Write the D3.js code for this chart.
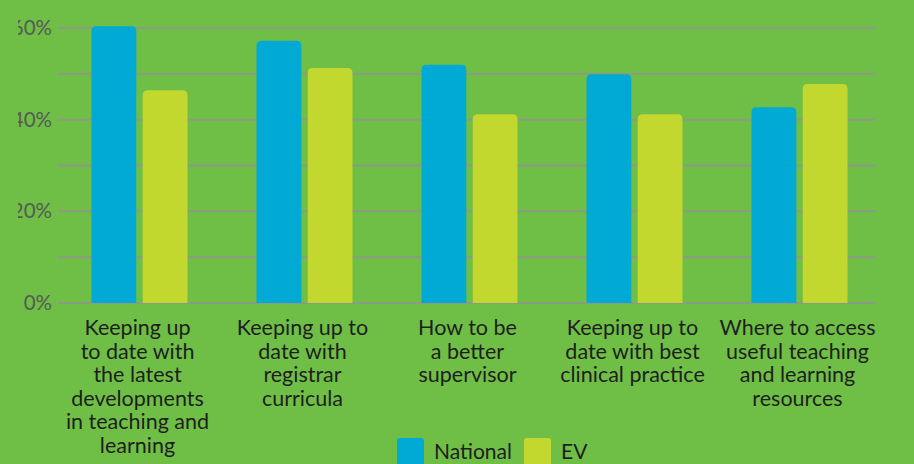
<!DOCTYPE html>
<html>
<head>
<meta charset="utf-8">
<script src="https://cdn.jsdelivr.net/npm/d3@7"></script>
<style>
  html, body { margin: 0; padding: 0; background: #6fbe46; }
  svg { display: block; }
</style>
</head>
<body>
<svg id="chart"></svg>
<script>
// chart data
const categories = [
  ["Keeping up", "to date with", "the latest", "developments", "in teaching and", "learning"],
  ["Keeping up to", "date with", "registrar", "curricula"],
  ["How to be", "a better", "supervisor"],
  ["Keeping up to", "date with best", "clinical practice"],
  ["Where to access", "useful teaching", "and learning", "resources"]
];
const seriesNames = ["National", "EV"];
const national = [60.4, 57.2, 52.0, 49.9, 42.7];
const ev = [46.4, 51.3, 41.2, 41.2, 47.8];
const yTicks = [0, 20, 40, 60];

const colors = {National: "#00aad4", EV: "#c2d82e"};

const width = 914, height = 464;
const svg = d3.select("#chart")
    .attr("width", width)
    .attr("height", height);

svg.append("rect")
    .attr("width", width)
    .attr("height", height)
    .attr("fill", "#6fbe46");

const x = d3.scaleBand()
    .domain(d3.range(categories.length))
    .range([57, 882])
    .paddingInner(0)
    .paddingOuter(0);

const x1 = d3.scaleBand()
    .domain(seriesNames)
    .range([0, 96])
    .paddingInner(0.125);

const y = d3.scaleLinear()
    .domain([0, 60])
    .range([303, 28]);

// gridlines every 10%
svg.append("g")
  .selectAll("line")
  .data(d3.range(0, 61, 10))
  .enter()
  .append("line")
    .attr("x1", 58)
    .attr("x2", 875)
    .attr("y1", d => y(d))
    .attr("y2", d => y(d))
    .attr("stroke", "#8e9a86")
    .attr("stroke-width", 2);

// y tick labels (clipped at left like the original)
svg.append("clipPath").attr("id", "leftclip")
  .append("rect").attr("x", 18).attr("y", 0).attr("width", 60).attr("height", height);

svg.append("g")
    .attr("clip-path", "url(#leftclip)")
  .selectAll("text")
  .data(yTicks)
  .enter()
  .append("text")
    .attr("x", 52)
    .attr("y", d => y(d) + 7)
    .attr("text-anchor", "end")
    .attr("font-family", "Lato, sans-serif")
    .attr("font-size", 20.5)
    .attr("fill", "#555b55")
    .text(d => d + "%");

// bars with rounded top corners
function topRounded(x0, y0, w, h, r) {
  r = Math.min(r, h);
  return "M" + x0 + "," + (y0 + h) +
    "V" + (y0 + r) +
    "Q" + x0 + "," + y0 + " " + (x0 + r) + "," + y0 +
    "H" + (x0 + w - r) +
    "Q" + (x0 + w) + "," + y0 + " " + (x0 + w) + "," + (y0 + r) +
    "V" + (y0 + h) + "Z";
}

const groups = svg.selectAll("g.group")
    .data(categories)
    .enter()
    .append("g")
    .attr("class", "group")
    .attr("transform", (d, i) => "translate(" + (x(i) + (x.bandwidth() - 96) / 2) + ",0)");

groups.selectAll("path")
    .data((d, i) => [
      {name: "National", value: national[i]},
      {name: "EV", value: ev[i]}
    ])
    .enter()
    .append("path")
    .attr("d", d => topRounded(x1(d.name), y(d.value), x1.bandwidth(), y(0) - y(d.value), 5))
    .attr("fill", d => colors[d.name]);

// category labels
groups.append("text")
    .attr("text-anchor", "middle")
    .attr("font-family", "Lato, sans-serif")
    .attr("font-size", 21.5)
    .attr("fill", "#1e1e1e")
    .attr("transform", "translate(" + 46 + ",0)")
  .selectAll("tspan")
  .data(d => d)
  .enter()
  .append("tspan")
    .attr("x", 0)
    .attr("y", (d, i) => 335 + i * 23.5)
    .text(d => d);

// legend
const legend = svg.append("g")
    .selectAll("g")
    .data(seriesNames)
    .enter()
    .append("g")
    .attr("transform", (d, i) => "translate(" + (i === 0 ? 397 : 524) + ",438)");

legend.append("rect")
    .attr("width", 27)
    .attr("height", 30)
    .attr("rx", 3)
    .attr("fill", d => colors[d]);

legend.append("text")
    .attr("x", 37)
    .attr("y", 21)
    .attr("font-family", "Lato, sans-serif")
    .attr("font-size", 21)
    .attr("fill", "#1e1e1e")
    .text(d => d);
</script>
</body>
</html>
